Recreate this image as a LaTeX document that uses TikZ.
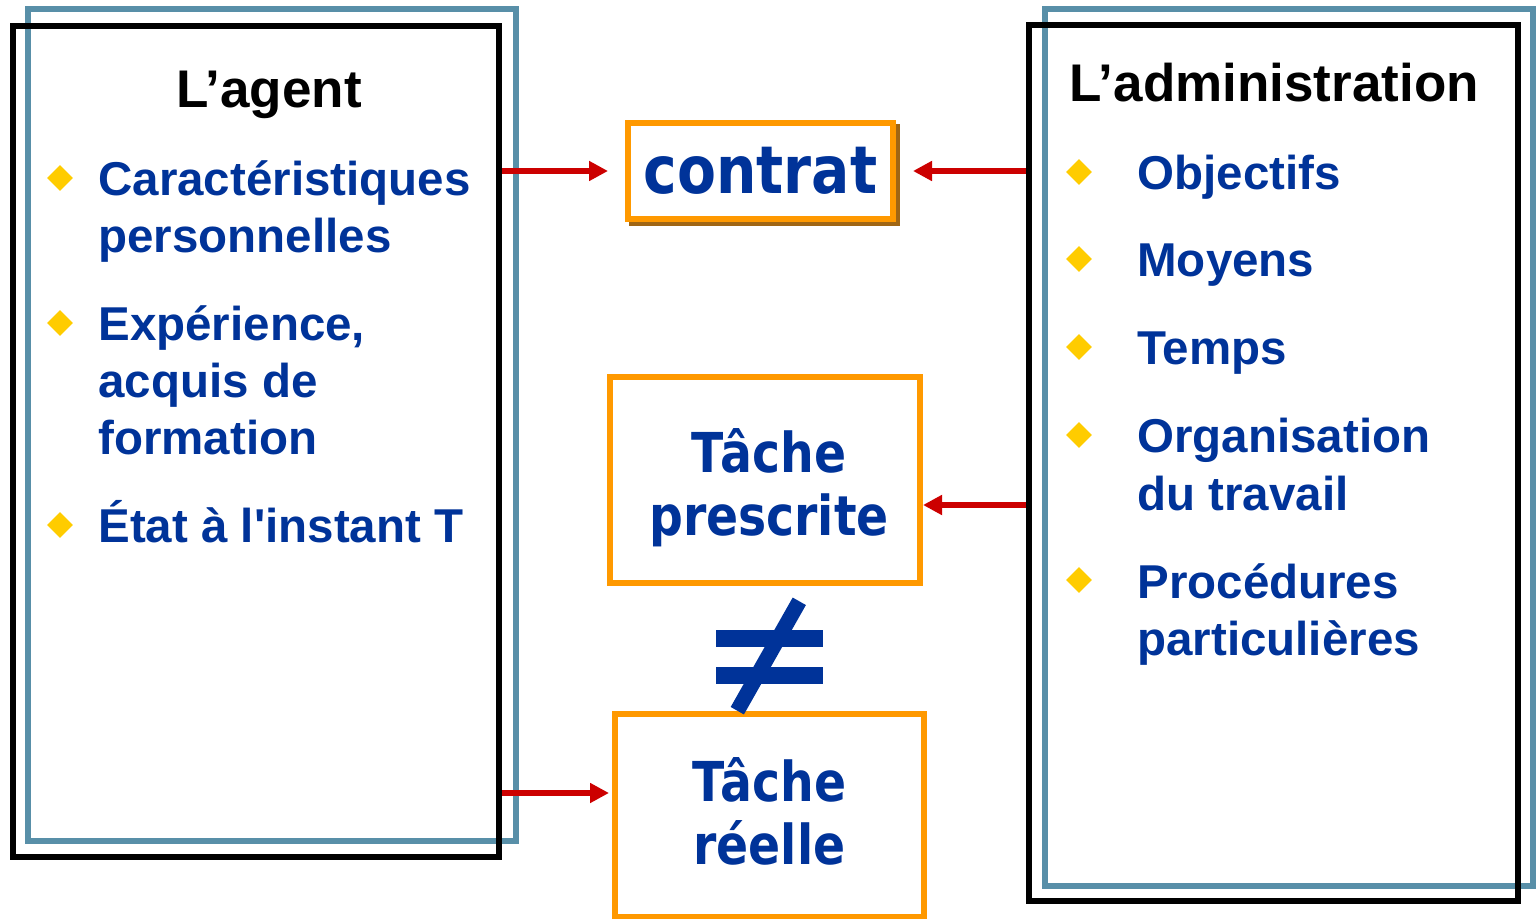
\documentclass[tikz,border=0pt]{standalone}
\usepackage{fontspec}
\newfontfamily\arial{Liberation Sans}
\newfontfamily\tahoma[FakeStretch=0.86]{DejaVu Sans}
\usepackage{xcolor}
\usepackage{tikz}
\usetikzlibrary{shapes.geometric,arrows.meta}

\definecolor{navy}{RGB}{0,51,153}
\definecolor{steel}{RGB}{88,143,168}
\definecolor{gold}{RGB}{255,204,0}
\definecolor{amber}{RGB}{255,153,0}
\definecolor{umber}{RGB}{160,102,20}
\definecolor{crimson}{RGB}{204,0,0}

\begin{document}
\begin{tikzpicture}[x=0.5pt, y=-0.5pt,
    frame/.style={draw=black, line width=3pt, inner sep=0pt},
    backframe/.style={draw=steel, line width=3pt, inner sep=0pt},
    taskbox/.style={draw=amber, fill=white, line width=3pt, inner sep=0pt},
    tasktext/.style={inner sep=0pt, align=center, text=navy, font=\tahoma\bfseries\fontsize{27.5pt}{31.5pt}\selectfont},
    heading/.style={inner sep=0pt, font=\arial\bfseries\fontsize{26.5pt}{31pt}\selectfont},
    item/.style={anchor=base west, inner sep=0pt, text=navy, font=\arial\bfseries\fontsize{23.75pt}{28.5pt}\selectfont},
    puce/.style={diamond, fill=gold, inner sep=0pt, minimum size=13pt},
    link/.style={draw=crimson, line width=2.75pt, -{Triangle[length=9.5pt,width=9.5pt]}}]
            \useasboundingbox (0,0) rectangle (1537,919);
            % L'agent
            \node[backframe, minimum width=243.75pt, minimum height=416pt] (agentback) at (271.75,425) {};
            \node[frame, minimum width=243.25pt, minimum height=415.5pt] (agent) at (255.75,441.5) {};
            \node[heading, anchor=base] (agenttitle) at (269,108) {L’agent};
            \foreach \y in {178,323,525}
                \node[puce] (pa\y) at (60,\y) {};
            \foreach \y/\t in {196/Caractéristiques, 253/personnelles, 341/{Expérience,}, 398/acquis de, 455/formation, 543/État à l'instant T}
                \node[item] (ta\y) at (98,\y) {\t};
            % L'administration
            \node[backframe, minimum width=244pt, minimum height=438.5pt] (adminback) at (1289,447.5) {};
            \node[frame, minimum width=244.5pt, minimum height=437.75pt] (admin) at (1273.5,463.25) {};
            \node[heading, anchor=base west] (admintitle) at (1069,102) {L’administration};
            \foreach \y in {172,259,347,435,580}
                \node[puce] (pb\y) at (1079,\y) {};
            \foreach \y/\t in {190/Objectifs, 277/Moyens, 365/Temps, 453/Organisation, 510/du travail, 598/Procédures, 655/particulières}
                \node[item] (tb\y) at (1137,\y) {\t};
            % contrat
            \node[taskbox, draw=umber, fill=umber, minimum width=132.5pt, minimum height=48pt] (contratshade) at (764.5,175) {};
            \node[taskbox, minimum width=132.5pt, minimum height=48pt, text=navy, font=\tahoma\bfseries\fontsize{33pt}{36pt}\selectfont] (contrat) at (760.5,171) {contrat};
            % taches
            \node[taskbox, minimum width=155.25pt, minimum height=103pt] (prescrite) at (764.75,480) {};
            \node[tasktext] (prescritetext) at (769,487.7) {Tâche\\prescrite};
            \node[taskbox, minimum width=154.75pt, minimum height=101.5pt] (reelle) at (769.25,815.5) {};
            \node[tasktext] (reelletext) at (769.5,811.8) {Tâche\\réelle};
            % different
            \fill[navy] (716,630) rectangle (823,647);
            \fill[navy] (716,667) rectangle (823,684);
            \draw[navy, line width=7.6pt] (799.3,601.3) -- (737.3,710.7);
            % arrows
            \coordinate (lane) at (0,505);
            \coordinate (lanebis) at (0,793);
            \draw[link, shorten >=8.5pt] (agent.east |- contrat) -- (contrat.west);
            \draw[link, shorten >=8.5pt] (admin.west |- contrat) -- (contrat.east);
            \draw[link] (admin.west |- lane) -- (prescrite.east |- lane);
            \draw[link, shorten >=1.25pt] (agent.east |- lanebis) -- (reelle.west |- lanebis);
        \end{tikzpicture}
\end{document}
